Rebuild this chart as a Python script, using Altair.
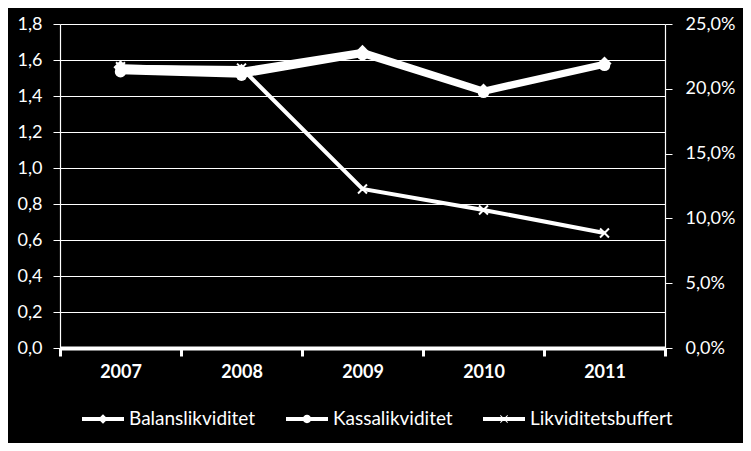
import altair as alt
import pandas as pd

years = ["2007", "2008", "2009", "2010", "2011"]
balans = [1.56, 1.54, 1.645, 1.43, 1.58]
kassa = [1.535, 1.515, 1.63, 1.42, 1.57]
buffert = [0.217, 0.216, 0.1227, 0.1065, 0.0887]
series_names = ["Balanslikviditet", "Kassalikviditet", "Likviditetsbuffert"]
left_ticks = [0.0, 0.2, 0.4, 0.6, 0.8, 1.0, 1.2, 1.4, 1.6, 1.8]
right_ticks = [0.0, 0.05, 0.10, 0.15, 0.20, 0.25]

df = pd.DataFrame({
    "year": years * 3,
    "series": [n for n in series_names for _ in years],
    "value": balans + kassa + buffert,
})

FONT = "Lato"

legend_paths = [
    "M-1,-0.09H1V0.09H-1Z M0,-0.23L0.23,0L0,0.23L-0.23,0Z",
    "M-1,-0.09H1V0.09H-1Z M-0.2,0A0.2,0.2 0 1,1 0.2,0A0.2,0.2 0 1,1 -0.2,0Z",
    "M-1,-0.09H1V0.09H-1Z M-0.19,-0.16L-0.16,-0.19L0.19,0.16L0.16,0.19Z M-0.19,0.16L0.16,-0.19L0.19,-0.16L-0.16,0.19Z",
]

x_enc = alt.X(
    "year:O",
    scale=alt.Scale(type="band", paddingInner=0, paddingOuter=0),
    bandPosition=0.5,
    axis=alt.Axis(
        title=None, labelAngle=0, tickBand="extent", tickExtra=True, grid=False, ticks=True,
        domainColor="white", domainWidth=4, tickColor="white", tickWidth=3,
        tickSize=8, tickOpacity=1, labelColor="white", labelFontWeight="bold",
        labelFontSize=18, labelPadding=7, labelFont=FONT,
    ),
)

y_left = alt.Y(
    "value:Q",
    scale=alt.Scale(domain=[0, 1.8], nice=False),
    axis=alt.Axis(
        title=None, values=left_ticks, orient="left",
        labelExpr="replace(format(datum.value, '.1f'), '.', ',')",
        grid=True, gridColor="white", gridWidth=1.2,
        domainColor="white", domainWidth=1.2, tickColor="white", tickSize=7,
        labelPadding=11, labelColor="white", labelFontSize=18, labelFont=FONT,
    ),
)

y_right = alt.Y(
    "value:Q",
    scale=alt.Scale(domain=[0, 0.25], nice=False),
    axis=alt.Axis(
        title=None, values=right_ticks, orient="right",
        labelExpr="replace(format(datum.value * 100, '.1f'), '.', ',') + '%'",
        grid=False, domainColor="white", domainWidth=1.2, tickColor="white",
        tickSize=7, labelPadding=13, labelColor="white", labelFontSize=18,
        labelFont=FONT,
    ),
)

base = alt.Chart(df)

bal = base.transform_filter(alt.datum.series == "Balanslikviditet").mark_line(
    color="white", strokeWidth=6,
    point=alt.OverlayMarkDef(shape="diamond", filled=True, color="white", size=200, opacity=1),
).encode(x=x_enc, y=y_left)

kas = base.transform_filter(alt.datum.series == "Kassalikviditet").mark_line(
    color="white", strokeWidth=5,
    point=alt.OverlayMarkDef(shape="circle", filled=True, color="white", size=130, opacity=1),
).encode(x=x_enc, y=y_left)

leg = base.transform_filter(alt.datum.year == "2007").mark_point(
    filled=True, opacity=0, color="white"
).encode(
    x=x_enc, y=y_left,
    shape=alt.Shape(
        "series:N",
        scale=alt.Scale(domain=series_names, range=legend_paths),
        legend=alt.Legend(
            title=None, orient="none", legendX=22, legendY=374,
            direction="horizontal", symbolSize=1764, symbolFillColor="white",
            symbolStrokeColor="white", symbolStrokeWidth=0, symbolOpacity=1,
            labelColor="white", labelFontSize=19, labelFont=FONT,
            labelOffset=5, columnPadding=30, padding=0,
        ),
    ),
)

buf = base.transform_filter(alt.datum.series == "Likviditetsbuffert").mark_line(
    color="white", strokeWidth=4,
    point=alt.OverlayMarkDef(shape="M-1,-1L1,1M-1,1L1,-1", filled=False, color="white",
                             strokeWidth=2, size=80, opacity=1),
).encode(x=x_enc, y=y_right)

chart = alt.layer(alt.layer(bal, kas, leg), buf).resolve_scale(y="independent").properties(
    width=605, height=324, background="black",
    padding={"left": 52, "top": 16, "right": 78, "bottom": 95},
    autosize=alt.AutoSizeParams(type="none"),
).configure_view(stroke=None)

chart.save("out.html", embed_options={"renderer": "svg", "actions": False})
